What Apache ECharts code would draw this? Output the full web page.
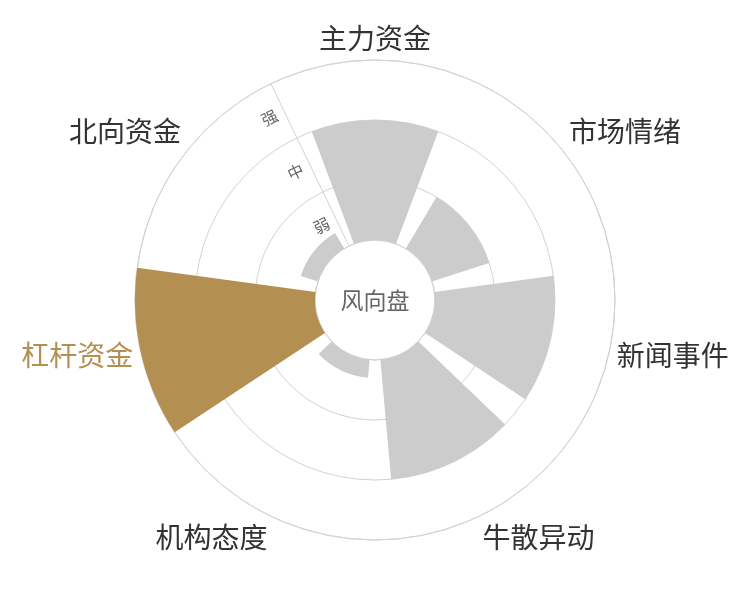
<!DOCTYPE html>
<html>
<head>
<meta charset="utf-8">
<title>风向盘</title>
<script src="https://cdn.jsdelivr.net/npm/echarts@6/dist/echarts.min.js"></script>
<style>
  html, body { margin: 0; padding: 0; background: #fff; }
  #chart { width: 750px; height: 600px; }
</style>
</head>
<body>
<div id="chart"></div>
<script>
// indicator names, clockwise from the top
const categories = ['主力资金', '市场情绪', '新闻事件', '牛散异动', '机构态度', '杠杆资金', '北向资金'];
// strength, 0 = none .. 3 = strong
const strength = [2, 1, 2, 2, 0.3, 3, 0.3];
const levelLabels = ['弱', '中', '强'];
const highlightName = '杠杆资金';

const GREY = '#cccccc';
const GOLD = '#b48f52';
const LINE = '#d2d2d2';
// first sector is centred straight up
const START = 90 + 360 / categories.length / 2;

const chart = echarts.init(document.getElementById('chart'));

const angleData = categories.map(function (name) {
    return name === highlightName ? { value: name, textStyle: { color: GOLD } } : name;
});

const barData = strength.map(function (v, i) {
    return categories[i] === highlightName ? { value: v, itemStyle: { color: GOLD } } : v;
});

chart.setOption({
    backgroundColor: '#fff',
    textStyle: { fontFamily: '"Noto Sans CJK SC", "Noto Sans", sans-serif' },
    title: {
        text: '风向盘',
        left: 'center',
        top: 'middle',
        textStyle: { color: '#666', fontSize: 23, fontWeight: 'normal' },
    },
    polar: [
        { center: ['50%', '50%'], radius: [60, 240] },
        { center: ['50%', '50%'], radius: [60, 240] },
    ],
    angleAxis: [
        {
            polarIndex: 0,
            type: 'category',
            data: angleData,
            startAngle: START,
            axisLine: { lineStyle: { color: LINE } },
            axisTick: { show: false },
            splitLine: { show: false },
            axisLabel: { fontSize: 28, color: '#333', margin: 8 },
        },
        {
            polarIndex: 1,
            type: 'category',
            data: categories,
            startAngle: START,
            show: false,
        },
    ],
    radiusAxis: [
        {
            polarIndex: 0,
            type: 'value',
            min: 0,
            max: 3,
            interval: 1,
            axisLine: { show: false },
            axisTick: { show: false },
            axisLabel: { show: false },
            splitLine: { lineStyle: { color: LINE } },
        },
        {
            polarIndex: 1,
            type: 'category',
            data: levelLabels,
            axisLine: { show: true, lineStyle: { color: LINE } },
            axisTick: { show: false },
            splitLine: { show: false },
            axisLabel: { rotate: 26, color: '#666', fontSize: 16 },
        },
    ],
    series: [
        {
            type: 'bar',
            coordinateSystem: 'polar',
            polarIndex: 0,
            data: barData,
            barCategoryGap: '20%',
            itemStyle: { color: GREY },
            silent: true,
        },
    ],
});

window.addEventListener('resize', function () {
    chart.resize();
});
</script>
</body>
</html>
